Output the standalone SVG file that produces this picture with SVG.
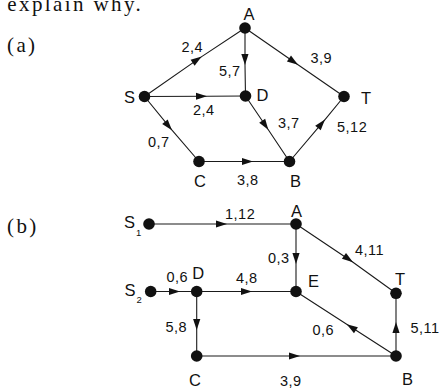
<svg xmlns="http://www.w3.org/2000/svg" width="445" height="388" viewBox="0 0 445 388">
<style>
.e{fill:none;stroke:#1a1a1a;stroke-width:1.1;marker-mid:url(#ah)}
.n{fill:#111}
.nl{font-family:"Liberation Sans",Arial,sans-serif;font-size:16.5px;fill:#111}
.el{font-family:"Liberation Sans",Arial,sans-serif;font-size:14.5px;letter-spacing:0.5px;fill:#111}
.sub{font-family:"Liberation Sans",Arial,sans-serif;font-size:9.5px;fill:#111}
.ser{font-family:"Liberation Serif","Times New Roman",serif;font-size:21px;letter-spacing:2.4px;fill:#111}
</style>
<defs>
<marker id="ah" viewBox="-12 -5 13 10" refX="0" refY="0" markerWidth="13" markerHeight="10" markerUnits="userSpaceOnUse" orient="auto" overflow="visible">
<path d="M0,0 L-11,-3.6 L-11,3.6 Z" fill="#111"/>
</marker>
</defs>
<text class="ser" x="7.3" y="10.5">explain why.</text>
<text class="ser" x="7" y="51.5">(a)</text>
<text class="ser" x="7" y="232.5">(b)</text>
<g id="connectors">
<path class="e" d="M144.5,96.5 L201.7,56.6 L245,28"/>
<path class="e" d="M245,28 L245,65 L245.5,96"/>
<path class="e" d="M245,28 L298,64.8 L344,96.5"/>
<path class="e" d="M144.5,96.5 L207,96.2 L245.5,96"/>
<path class="e" d="M144.5,96.5 L172,130.2 L199,161.5"/>
<path class="e" d="M245.5,96 L268.3,129.8 L289.5,161.5"/>
<path class="e" d="M199,161.5 L253,161.5 L289.5,161.5"/>
<path class="e" d="M289.5,161.5 L325,119.6 L344,96.5"/>
<path class="e" d="M149,224 L227,224 L296,224"/>
<path class="e" d="M296,224 L296,264 L296,291.5"/>
<path class="e" d="M296,224 L353,262.2 L396,293.3"/>
<path class="e" d="M150.7,291.5 L180,291.5 L196.7,291.5"/>
<path class="e" d="M196.7,291.5 L252,291.5 L296,291.5"/>
<path class="e" d="M196.7,291.5 L196.7,330 L196.7,356"/>
<path class="e" d="M196.7,356 L300,356 L396,356"/>
<path class="e" d="M396,356 L346.7,324.3 L296,291.5"/>
<path class="e" d="M396,356 L396,322 L396,293.3"/>
</g>
<g id="a-S"><circle class="n" cx="144.5" cy="96.5" r="5.8"/><text class="nl" x="129.5" y="102.5" text-anchor="middle">S</text></g>
<g id="a-A"><circle class="n" cx="245" cy="28" r="5.8"/><text class="nl" x="249" y="20" text-anchor="middle">A</text></g>
<g id="a-D"><circle class="n" cx="245.5" cy="96" r="5.8"/><text class="nl" x="262.5" y="100.5" text-anchor="middle">D</text></g>
<g id="a-T"><circle class="n" cx="344" cy="96.5" r="5.8"/><text class="nl" x="366" y="104" text-anchor="middle">T</text></g>
<g id="a-C"><circle class="n" cx="199" cy="161.5" r="5.8"/><text class="nl" x="200" y="186.5" text-anchor="middle">C</text></g>
<g id="a-B"><circle class="n" cx="289.5" cy="161.5" r="5.8"/><text class="nl" x="295.5" y="186.5" text-anchor="middle">B</text></g>
<g id="a-labels">
<text class="el" x="181.5" y="52.3">2,4</text>
<text class="el" x="219" y="76">5,7</text>
<text class="el" x="310.5" y="63.3">3,9</text>
<text class="el" x="193" y="115">2,4</text>
<text class="el" x="278" y="127.7">3,7</text>
<text class="el" x="337" y="131.7">5,12</text>
<text class="el" x="148" y="146.7">0,7</text>
<text class="el" x="237" y="185">3,8</text>
</g>
<g id="b-S1"><circle class="n" cx="149" cy="224" r="5.8"/><text class="nl" x="124" y="228">S</text><text class="sub" x="136" y="235.5">1</text></g>
<g id="b-A"><circle class="n" cx="296" cy="224" r="5.8"/><text class="nl" x="296.5" y="216.7" text-anchor="middle">A</text></g>
<g id="b-E"><circle class="n" cx="296" cy="291.5" r="5.8"/><text class="nl" x="308" y="287.3">E</text></g>
<g id="b-T"><circle class="n" cx="396" cy="293.3" r="5.8"/><text class="nl" x="400" y="285" text-anchor="middle">T</text></g>
<g id="b-S2"><circle class="n" cx="150.7" cy="291.5" r="5.8"/><text class="nl" x="124.5" y="296">S</text><text class="sub" x="136.5" y="302.5">2</text></g>
<g id="b-D"><circle class="n" cx="196.7" cy="291.5" r="5.8"/><text class="nl" x="198.2" y="279" text-anchor="middle">D</text></g>
<g id="b-C"><circle class="n" cx="196.7" cy="356" r="5.8"/><text class="nl" x="195" y="386" text-anchor="middle">C</text></g>
<g id="b-B"><circle class="n" cx="396" cy="356" r="5.8"/><text class="nl" x="407.5" y="385" text-anchor="middle">B</text></g>
<g id="b-labels">
<text class="el" x="225" y="219">1,12</text>
<text class="el" x="268" y="263.3">0,3</text>
<text class="el" x="355" y="255">4,11</text>
<text class="el" x="166.5" y="282.3">0,6</text>
<text class="el" x="236" y="282.7">4,8</text>
<text class="el" x="165.5" y="331.7">5,8</text>
<text class="el" x="312.5" y="335">0,6</text>
<text class="el" x="410.5" y="333.3">5,11</text>
<text class="el" x="280" y="386">3,9</text>
</g>
</svg>
